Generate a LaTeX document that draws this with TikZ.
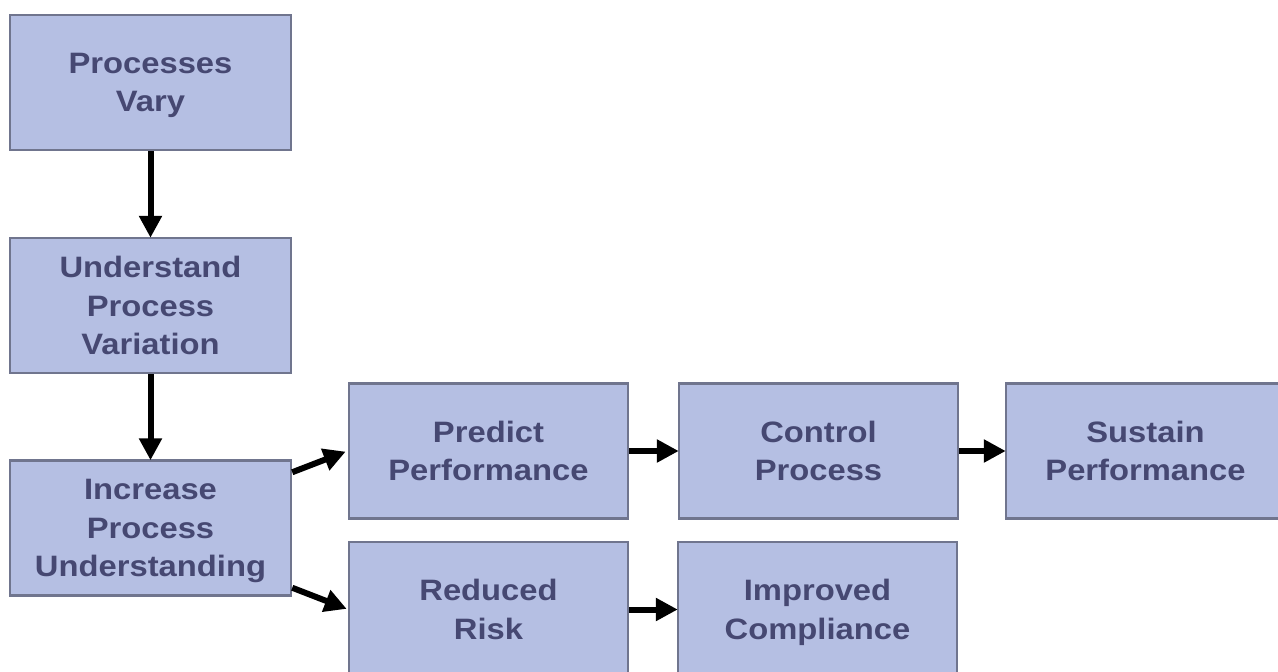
\documentclass[tikz,border=0pt]{standalone}
\usepackage{fontspec}
\setmainfont[FakeStretch=1.11]{Liberation Sans}
\usetikzlibrary{arrows.meta,calc}
\definecolor{boxfill}{RGB}{181,191,227}
\definecolor{boxline}{RGB}{112,117,142}
\definecolor{boxtext}{RGB}{70,72,114}
\begin{document}
\begin{tikzpicture}[x=1pt,y=-1pt,
  stepbox/.style={draw=boxline, line width=2.5pt, fill=boxfill, text=boxtext,
    minimum width=279pt, minimum height=135pt, inner sep=0pt, align=center,
    text depth=0pt,
    font=\fontsize{29.5}{38.5}\selectfont\bfseries},
  widebox/.style={stepbox, minimum width=281pt},
  flow/.style={line width=6pt, draw=black, -{Triangle[width=22pt,length=22pt]}, shorten >=-1pt}
]
\useasboundingbox (0,0) rectangle (1278,672);
\node[widebox] (vary) at (150.5,82.5) {Processes\\Vary};
\node[widebox] (under) at (150.5,305.5) {Understand\\Process\\Variation};
\node[widebox] (incr) at (150.5,528) {Increase\\Process\\Understanding};
\node[stepbox] (pred) at (488.5,451) {Predict\\Performance};
\node[stepbox] (ctrl) at (818.5,451) {Control\\Process};
\node[stepbox] (sust) at (1145.5,451) {Sustain\\Performance};
\node[stepbox] (risk) at (488.5,609.5) {Reduced\\Risk};
\node[stepbox] (comp) at (817.5,609.5) {Improved\\Compliance};

\draw[flow] (vary.south) -- (under.north);
\draw[flow] (under.south) -- (incr.north);
\draw[flow] ($(incr.north east)+(0,13)$) -- ($(pred.west)+(-3,1)$);
\draw[flow] ($(incr.south east)+(0,-9)$) -- ($(risk.west)+(-2,-1)$);
\draw[flow] (pred.east) -- (ctrl.west);
\draw[flow] (ctrl.east) -- (sust.west);
\draw[flow] (risk.east) -- (comp.west);
\end{tikzpicture}
\end{document}
